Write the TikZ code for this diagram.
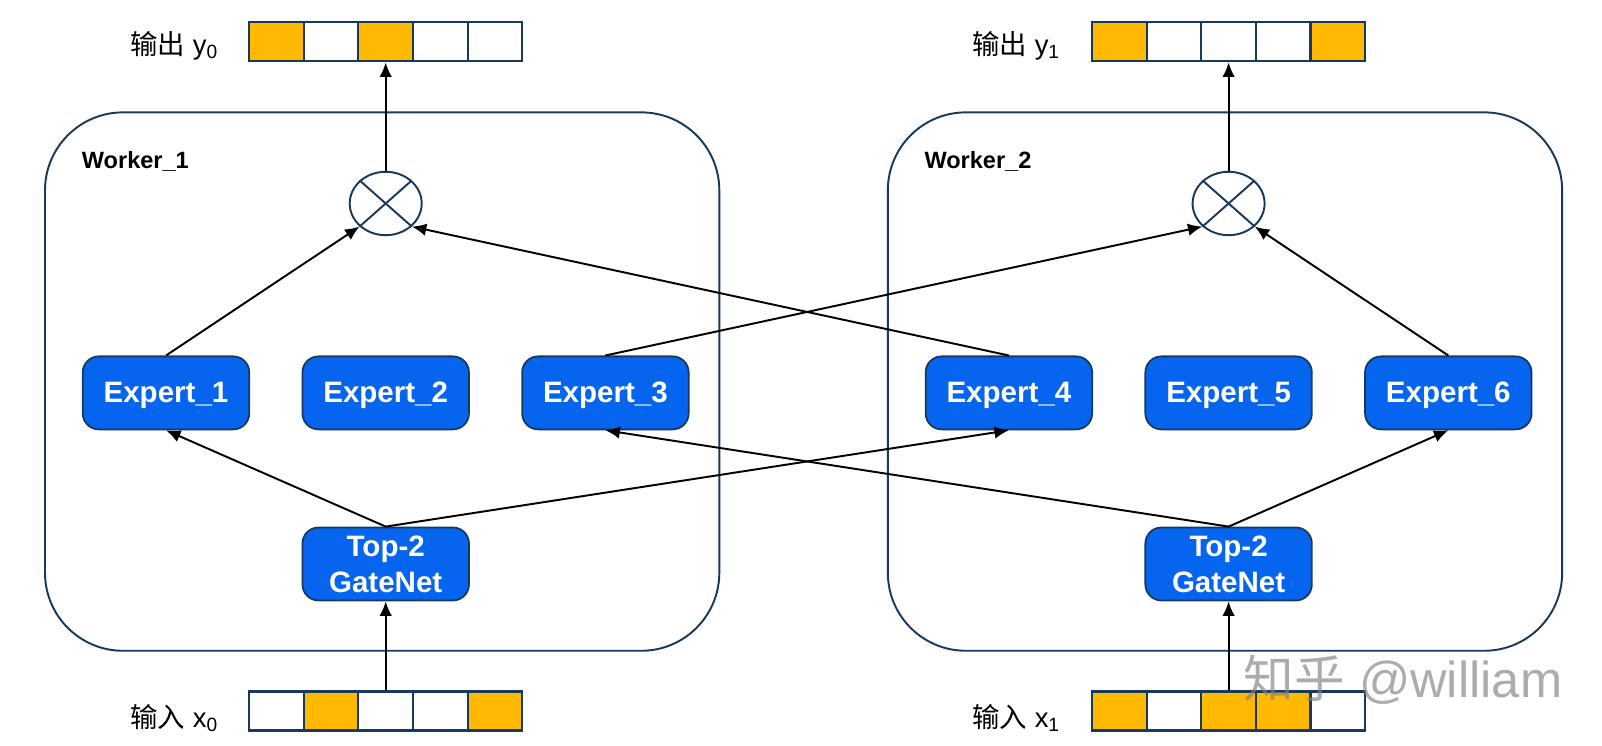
\documentclass[tikz,border=0pt]{standalone}
\usepackage{fontspec}
\setmainfont{Liberation Sans}
\newfontfamily\zhfont{Noto Sans CJK SC}
\usetikzlibrary{arrows.meta,shapes.geometric}
\definecolor{cellorange}{HTML}{FFB900}
\definecolor{netblue}{HTML}{0565EE}
\definecolor{linenavy}{HTML}{17395C}
\tikzset{
    worker/.style={draw=linenavy,line width=0.55pt,rounded corners=7.8mm,minimum width=67.43mm,minimum height=53.84mm},
    netbox/.style={draw=linenavy,fill=netblue,text=white,rounded corners=1.6mm,line width=0.5pt,minimum width=16.65mm,minimum height=7.3mm,font=\fontsize{8.4pt}{10.2pt}\selectfont\bfseries,inner sep=0pt},
    expert/.style={netbox,text height=2mm,text depth=0pt},
    gate/.style={netbox,align=center},
    cell/.style={draw=linenavy,line width=0.6pt,minimum width=5.46mm,minimum height=3.9mm,inner sep=0pt},
    oncell/.style={cell,fill=cellorange},
    mul/.style={draw=linenavy,ellipse,line width=0.55pt,minimum width=7.2mm,minimum height=6.34mm,inner sep=0pt},
    tag/.style={font=\fontsize{7.8pt}{9pt}\selectfont,anchor=west,inner sep=0pt},
    wname/.style={font=\fontsize{6.7pt}{8pt}\selectfont\bfseries,anchor=base west,inner sep=0pt},
    link/.style={-{Latex[length=1.45mm,width=1.25mm]},line width=0.55pt,black}
}
\begin{document}
\begin{tikzpicture}
            \useasboundingbox (0,0) rectangle (16.02,7.46);
            \node[worker] (w1) at (3.8215,3.644) {};
            \node[worker] (w2) at (12.25,3.644) {};
            \node[wname] (w1name) at (0.812,5.77) {Worker\_1};
            \node[wname] (w2name) at (9.238,5.77) {Worker\_2};
            \begin{scope}[every node/.style={expert}]
                \node (e1) at (1.66,3.531) {Expert\_1};
                \node (e2) at (3.857,3.531) {Expert\_2};
                \node (e3) at (6.054,3.531) {Expert\_3};
                \node (e4) at (10.089,3.531) {Expert\_4};
                \node (e5) at (12.286,3.531) {Expert\_5};
                \node (e6) at (14.483,3.531) {Expert\_6};
            \end{scope}
            \node[gate] (g1) at (3.857,1.82) {Top-2\\GateNet};
            \node[gate] (g2) at (12.286,1.82) {Top-2\\GateNet};
            \node[mul] (m1) at (3.857,5.425) {};
            \node[mul] (m2) at (12.286,5.425) {};
            \draw[linenavy,line width=0.55pt] (m1.north west) -- (m1.south east);
            \draw[linenavy,line width=0.55pt] (m1.south west) -- (m1.north east);
            \draw[linenavy,line width=0.55pt] (m2.north west) -- (m2.south east);
            \draw[linenavy,line width=0.55pt] (m2.south west) -- (m2.north east);
            \node[cell] (y0c2) at (3.311,7.041) {};
            \node[cell] (y0c4) at (4.403,7.041) {};
            \node[cell] (y0c5) at (4.949,7.041) {};
            \node[oncell] (y0c1) at (2.765,7.041) {};
            \node[oncell] (y0c3) at (3.857,7.041) {};
            \node[cell] (y1c2) at (11.740,7.041) {};
            \node[cell] (y1c3) at (12.286,7.041) {};
            \node[cell] (y1c4) at (12.832,7.041) {};
            \node[oncell] (y1c1) at (11.194,7.041) {};
            \node[oncell] (y1c5) at (13.378,7.041) {};
            \node[cell] (x0c1) at (2.765,0.35) {};
            \node[cell] (x0c3) at (3.857,0.35) {};
            \node[cell] (x0c4) at (4.403,0.35) {};
            \node[oncell] (x0c2) at (3.311,0.35) {};
            \node[oncell] (x0c5) at (4.949,0.35) {};
            \node[cell] (x1c2) at (11.740,0.35) {};
            \node[cell] (x1c5) at (13.378,0.35) {};
            \node[oncell] (x1c1) at (11.194,0.35) {};
            \node[oncell] (x1c3) at (12.286,0.35) {};
            \node[oncell] (x1c4) at (12.832,0.35) {};
            \node[tag] (y0name) at (1.298,7.0) {{\zhfont 输出} y\textsubscript{0}};
            \node[tag] (y1name) at (9.716,7.0) {{\zhfont 输出} y\textsubscript{1}};
            \node[tag] (x0name) at (1.298,0.28) {{\zhfont 输入} x\textsubscript{0}};
            \node[tag] (x1name) at (9.716,0.28) {{\zhfont 输入} x\textsubscript{1}};
            \draw[link] (x0c3) -- (g1);
            \draw[link] (x1c3) -- (g2);
            \draw[link] (g1.north) -- (e1.south);
            \draw[link] (g1.north) -- (e4.south);
            \draw[link] (g2.north) -- (e3.south);
            \draw[link] (g2.north) -- (e6.south);
            \draw[link] (e1.north) -- (m1.south west);
            \draw[link] (e4.north) -- (m1.south east);
            \draw[link] (e3.north) -- (m2.south west);
            \draw[link] (e6.north) -- (m2.south east);
            \draw[link] (m1) -- (y0c3);
            \draw[link] (m2) -- (y1c3);
            \node[anchor=center,inner sep=0pt,text=gray,opacity=0.65,font=\fontsize{14.4pt}{16pt}\selectfont] (mark) at (14.03,0.66) {{\zhfont 知乎} @william};
\end{tikzpicture}
\end{document}
